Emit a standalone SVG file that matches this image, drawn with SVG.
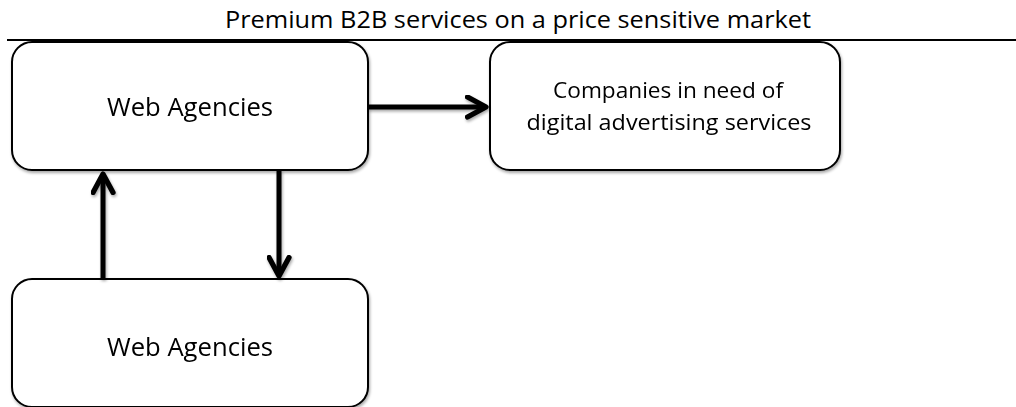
<svg xmlns="http://www.w3.org/2000/svg" width="1016" height="407" viewBox="0 0 1016 407">
<style>
.box{fill:#fff;stroke:#000;stroke-width:2}
.lbl{font-family:"Open Sans","Liberation Sans",sans-serif;font-size:25px;fill:#000;text-anchor:middle}
.sm{font-size:22px}
.con{stroke:#000;stroke-width:5;fill:none}
</style>
<defs>
<filter id="sh" x="-10%" y="-10%" width="130%" height="130%">
<feGaussianBlur in="SourceAlpha" stdDeviation="1.5"/>
<feOffset dx="1" dy="2" result="b"/>
<feComponentTransfer><feFuncA type="linear" slope="0.35"/></feComponentTransfer>
<feMerge><feMergeNode/><feMergeNode in="SourceGraphic"/></feMerge>
</filter>
<marker id="ah" viewBox="0 0 10 10" refX="8.4" refY="5" markerWidth="5" markerHeight="5" orient="auto" markerUnits="strokeWidth">
<path d="M1,1 L8.4,5 L1,9" fill="none" stroke="#000" stroke-width="2.1" stroke-linecap="round" stroke-linejoin="round"/>
</marker>
</defs>
<text class="lbl" x="518" y="28" style="font-size:23px" textLength="586" lengthAdjust="spacingAndGlyphs">Premium B2B services on a price sensitive market</text>
<line x1="7" y1="40" x2="1016" y2="40" stroke="#000" stroke-width="2"/>
<g id="n1" filter="url(#sh)">
<rect class="box" x="12" y="42" width="356" height="128" rx="20"/>
<text class="lbl" x="190" y="116" textLength="166" lengthAdjust="spacingAndGlyphs">Web Agencies</text>
</g>
<g id="n2" filter="url(#sh)">
<rect class="box" x="490" y="42" width="350" height="128" rx="20"/>
<text class="lbl sm" x="668" y="98" textLength="230" lengthAdjust="spacingAndGlyphs">Companies in need of</text>
<text class="lbl sm" x="669" y="130" textLength="285" lengthAdjust="spacingAndGlyphs">digital advertising services</text>
</g>
<g id="n3" filter="url(#sh)">
<rect class="box" x="12" y="279" width="356" height="128" rx="20"/>
<text class="lbl" x="190" y="356" textLength="166" lengthAdjust="spacingAndGlyphs">Web Agencies</text>
</g>
<g id="connectors" filter="url(#sh)">
<line class="con" x1="368" y1="107" x2="486" y2="107" marker-end="url(#ah)"/>
<line class="con" x1="103" y1="279" x2="103" y2="174" marker-end="url(#ah)"/>
<line class="con" x1="279" y1="170" x2="279" y2="276" marker-end="url(#ah)"/>
</g>
</svg>
